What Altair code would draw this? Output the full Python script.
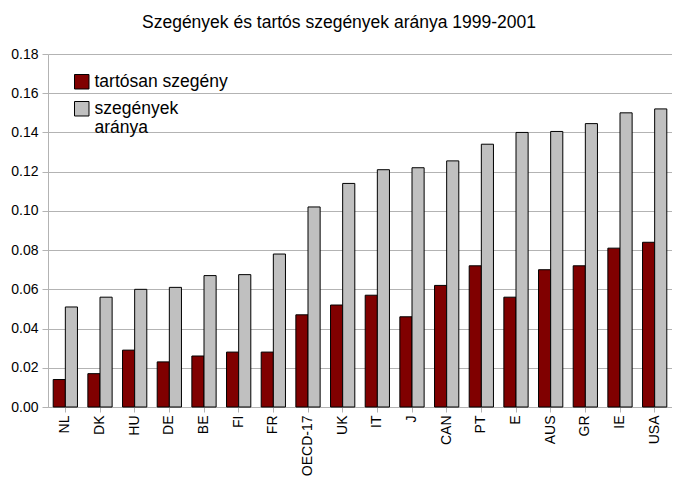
import altair as alt
import pandas as pd

countries = ["NL", "DK", "HU", "DE", "BE", "FI", "FR", "OECD-17", "UK", "IT",
             "J", "CAN", "PT", "E", "AUS", "GR", "IE", "USA"]
persistent = [0.014, 0.017, 0.029, 0.023, 0.026, 0.028, 0.028, 0.047, 0.052, 0.057,
              0.046, 0.062, 0.072, 0.056, 0.070, 0.072, 0.081, 0.084]
poor = [0.051, 0.056, 0.060, 0.061, 0.067, 0.0675, 0.078, 0.102, 0.114, 0.121,
        0.122, 0.1255, 0.134, 0.140, 0.1405, 0.1445, 0.150, 0.152]
series = ["tartósan szegény", "szegények aránya"]
colors = ["#800000", "#c0c0c0"]
y_ticks = [0.00, 0.02, 0.04, 0.06, 0.08, 0.10, 0.12, 0.14, 0.16, 0.18]

rows = []
for c, a, b in zip(countries, persistent, poor):
    rows.append({"country": c, "series": series[0], "value": a})
    rows.append({"country": c, "series": series[1], "value": b})
df = pd.DataFrame(rows)

FONT = "Liberation Sans"

chart = alt.Chart(df).mark_bar(stroke="#000000", strokeWidth=1).encode(
    x=alt.X("country:N", sort=countries, title=None,
            scale=alt.Scale(paddingInner=0.3, paddingOuter=0.15),
            axis=alt.Axis(labelAngle=270, labelAlign="right", labelBaseline="middle",
                          labelFontSize=14, labelFont=FONT, labelColor="#000000",
                          labelPadding=3, tickSize=5, tickColor="#b3b3b3",
                          domainColor="#b3b3b3", grid=False)),
    xOffset=alt.XOffset("series:N", sort=series),
    y=alt.Y("value:Q", title=None,
            scale=alt.Scale(domain=[0, 0.18], nice=False),
            axis=alt.Axis(values=y_ticks, format=".2f", labelFontSize=14, labelFont=FONT,
                          labelColor="#000000", labelPadding=4, tickSize=6,
                          tickColor="#b3b3b3", domainColor="#b3b3b3",
                          gridColor="#b3b3b3", gridWidth=1)),
    color=alt.Color("series:N", sort=series,
                    scale=alt.Scale(domain=series, range=colors),
                    legend=alt.Legend(title=None, orient="none", legendX=25, legendY=19,
                                      symbolType="square", symbolSize=210,
                                      symbolStrokeColor="#000000", symbolStrokeWidth=1,
                                      labelFontSize=17.5, labelFont=FONT, labelColor="#000000",
                                      labelBaseline="middle", labelLimit=300,
                                      labelExpr="datum.label == 'szegények aránya' ? ['szegények', 'aránya'] : datum.label",
                                      rowPadding=8, padding=0)),
).properties(
    width=624,
    height=353,
    title=alt.TitleParams("Szegények és tartós szegények aránya 1999-2001",
                          fontSize=17.5, font=FONT, fontWeight="normal", color="#000000",
                          anchor="middle", dx=-21, offset=16),
    padding={"left": 2, "top": 5, "right": 0, "bottom": 0},
).configure_view(stroke=None)

chart.save("out.html", embed_options={"renderer": "svg", "actions": False})
